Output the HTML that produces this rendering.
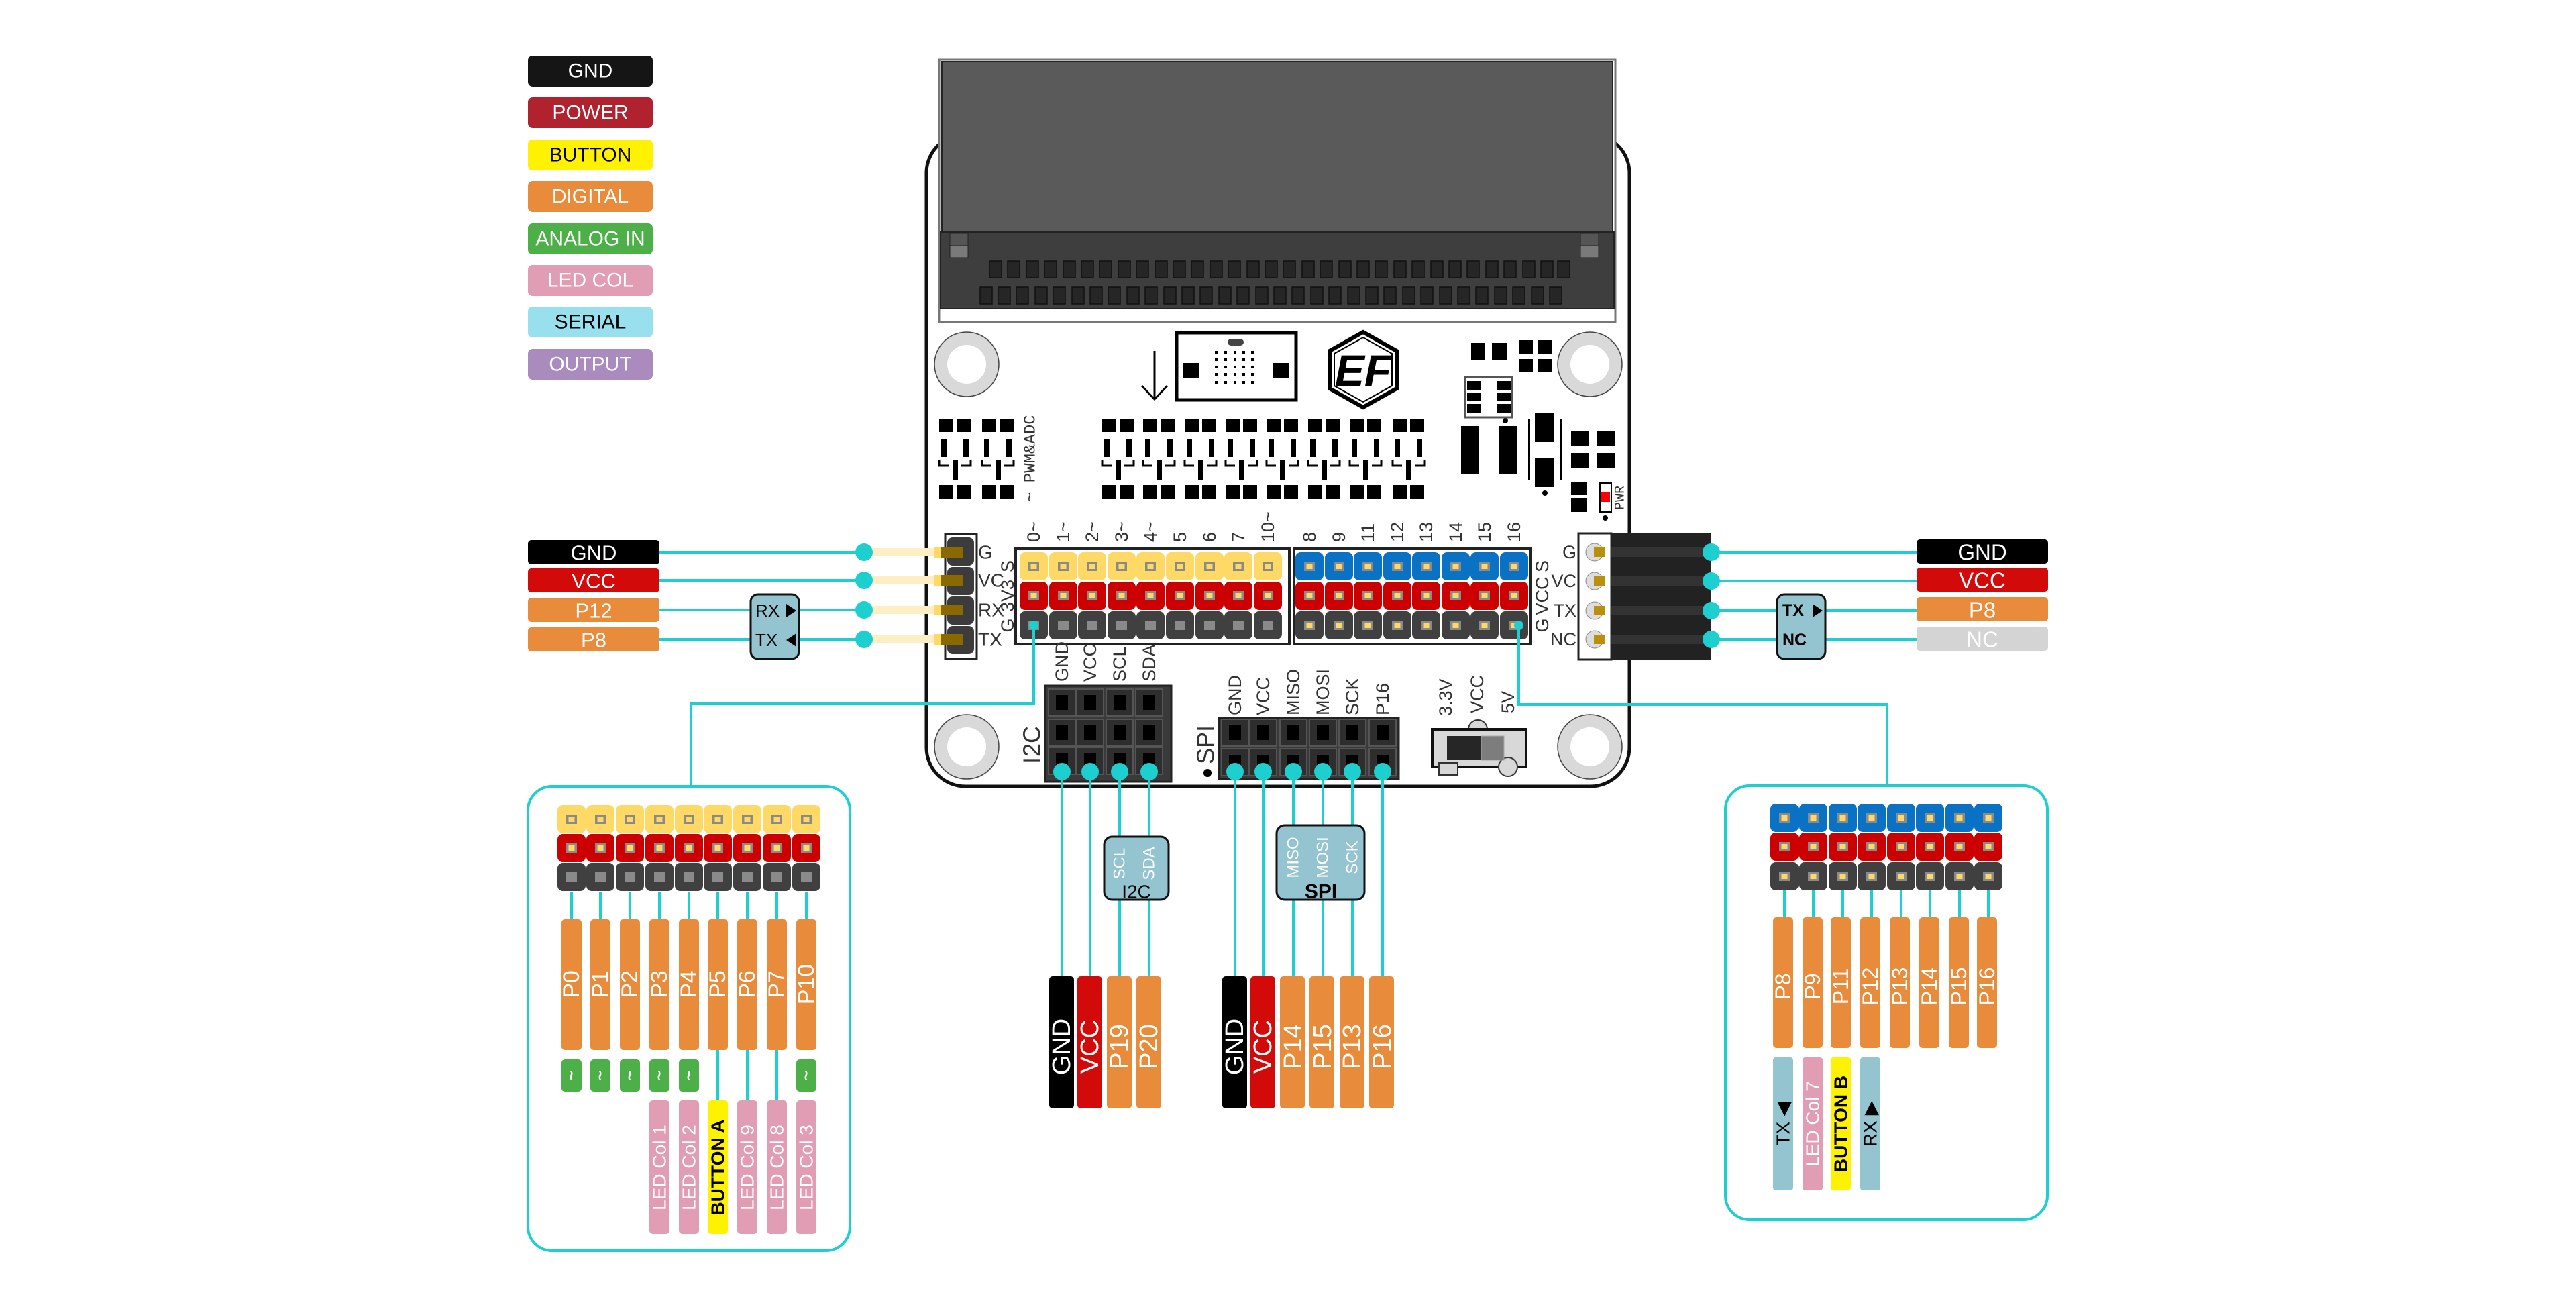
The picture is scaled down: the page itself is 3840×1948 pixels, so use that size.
<!DOCTYPE html>
<html><head><meta charset="utf-8"><style>
html,body{margin:0;padding:0;background:#fff;width:3840px;height:1948px;overflow:hidden}
svg{display:block}
text{font-family:"Liberation Sans",sans-serif}
.m{font-family:"Liberation Mono",monospace;fill:#333}
</style></head><body>
<svg width="3840" height="1948" viewBox="0 0 3840 1948" xmlns="http://www.w3.org/2000/svg">
<defs>
<g id="Y"><rect x="-21" y="-21" width="42" height="42" rx="8" fill="#ffd966"/><rect x="-8" y="-7" width="16" height="14" fill="#8a8a8a"/><rect x="-4.5" y="-4" width="9" height="8" fill="#ffd966"/></g>
<g id="R"><rect x="-21" y="-21" width="42" height="42" rx="8" fill="#cc0000"/><rect x="-8" y="-7" width="16" height="14" fill="#8a8a8a"/><rect x="-4.5" y="-4" width="9" height="8" fill="#ffd966"/></g>
<g id="B"><rect x="-21" y="-21" width="42" height="42" rx="8" fill="#0a72c4"/><rect x="-8" y="-7" width="16" height="14" fill="#8a8a8a"/><rect x="-4.5" y="-4" width="9" height="8" fill="#ffd966"/></g>
<g id="K"><rect x="-21" y="-21" width="42" height="42" rx="8" fill="#404040"/><rect x="-8" y="-7" width="16" height="14" fill="#8a8a8a"/></g>
<g id="KY"><rect x="-21" y="-21" width="42" height="42" rx="8" fill="#404040"/><rect x="-8" y="-7" width="16" height="14" fill="#8a8a8a"/><rect x="-4.5" y="-4" width="9" height="8" fill="#ffd966"/></g>
<g id="H"><rect x="-20" y="-20" width="40" height="40" fill="#2e2e2e" stroke="#555" stroke-width="2"/><rect x="-9" y="-11" width="18" height="22" fill="#000"/></g>
<g id="S1"><rect x="0" y="0" width="18" height="25" fill="#262626" stroke="#111" stroke-width="1.5"/></g>
<g id="RES"><rect x="0" y="0" width="21" height="20" fill="#000"/><rect x="26" y="0" width="21" height="20" fill="#000"/><rect x="3" y="30" width="8" height="27" fill="#000"/><rect x="36" y="30" width="8" height="27" fill="#000"/><rect x="20" y="62" width="8" height="30" fill="#000"/><path d="M0 62 v8 h14 M47 62 v8 h-14" stroke="#000" stroke-width="3" fill="none"/><rect x="0" y="99" width="21" height="20" fill="#000"/><rect x="26" y="99" width="21" height="20" fill="#000"/></g>
</defs>

<!-- Legend -->
<g font-size="30" text-anchor="middle" dominant-baseline="central">
<rect x="787" y="83" width="186" height="46" rx="7" fill="#151515"/><text x="880" y="106" fill="#fff">GND</text>
<rect x="787" y="145" width="186" height="46" rx="7" fill="#b0232e"/><text x="880" y="168" fill="#fff">POWER</text>
<rect x="787" y="208" width="186" height="46" rx="7" fill="#fff200"/><text x="880" y="231" fill="#000">BUTTON</text>
<rect x="787" y="270" width="186" height="46" rx="7" fill="#e88b3a"/><text x="880" y="293" fill="#fff">DIGITAL</text>
<rect x="787" y="333" width="186" height="46" rx="7" fill="#4caf48"/><text x="880" y="356" fill="#fff">ANALOG IN</text>
<rect x="787" y="395" width="186" height="46" rx="7" fill="#e09db3"/><text x="880" y="418" fill="#fff">LED COL</text>
<rect x="787" y="457" width="186" height="46" rx="7" fill="#99e0ee"/><text x="880" y="480" fill="#000">SERIAL</text>
<rect x="787" y="520" width="186" height="46" rx="7" fill="#a98bbd"/><text x="880" y="543" fill="#fff">OUTPUT</text>
</g>

<!-- Board body -->
<rect x="1381" y="200" width="1048" height="972" rx="58" fill="#fff" stroke="#111" stroke-width="5"/>

<!-- Edge connector -->
<rect x="1400" y="89" width="1008" height="391" fill="#fff" stroke="#777" stroke-width="3"/>
<rect x="1404" y="92" width="1000" height="254" fill="#5a5a5a" stroke="#222" stroke-width="2"/>
<rect x="1402" y="346" width="1004" height="114" fill="#3e3e3e" stroke="#222" stroke-width="2"/>
<rect x="1416" y="348" width="27" height="18" fill="#555" stroke="#222"/><rect x="1416" y="366" width="27" height="18" fill="#7a7a7a" stroke="#222"/>
<rect x="2356" y="348" width="27" height="18" fill="#555" stroke="#222"/><rect x="2356" y="366" width="27" height="18" fill="#7a7a7a" stroke="#222"/>
<g>
<use href="#S1" x="1475" y="389"/><use href="#S1" x="1502" y="389"/><use href="#S1" x="1530" y="389"/><use href="#S1" x="1557" y="389"/><use href="#S1" x="1585" y="389"/><use href="#S1" x="1612" y="389"/><use href="#S1" x="1639" y="389"/><use href="#S1" x="1667" y="389"/><use href="#S1" x="1694" y="389"/><use href="#S1" x="1722" y="389"/><use href="#S1" x="1749" y="389"/><use href="#S1" x="1776" y="389"/><use href="#S1" x="1804" y="389"/><use href="#S1" x="1831" y="389"/><use href="#S1" x="1859" y="389"/><use href="#S1" x="1886" y="389"/><use href="#S1" x="1913" y="389"/><use href="#S1" x="1941" y="389"/><use href="#S1" x="1968" y="389"/><use href="#S1" x="1996" y="389"/><use href="#S1" x="2023" y="389"/><use href="#S1" x="2050" y="389"/><use href="#S1" x="2078" y="389"/><use href="#S1" x="2105" y="389"/><use href="#S1" x="2133" y="389"/><use href="#S1" x="2160" y="389"/><use href="#S1" x="2187" y="389"/><use href="#S1" x="2215" y="389"/><use href="#S1" x="2242" y="389"/><use href="#S1" x="2270" y="389"/><use href="#S1" x="2297" y="389"/><use href="#S1" x="2322" y="389"/>
<use href="#S1" x="1461" y="428"/><use href="#S1" x="1488" y="428"/><use href="#S1" x="1515" y="428"/><use href="#S1" x="1543" y="428"/><use href="#S1" x="1570" y="428"/><use href="#S1" x="1598" y="428"/><use href="#S1" x="1625" y="428"/><use href="#S1" x="1652" y="428"/><use href="#S1" x="1680" y="428"/><use href="#S1" x="1707" y="428"/><use href="#S1" x="1735" y="428"/><use href="#S1" x="1762" y="428"/><use href="#S1" x="1789" y="428"/><use href="#S1" x="1817" y="428"/><use href="#S1" x="1844" y="428"/><use href="#S1" x="1872" y="428"/><use href="#S1" x="1899" y="428"/><use href="#S1" x="1926" y="428"/><use href="#S1" x="1954" y="428"/><use href="#S1" x="1981" y="428"/><use href="#S1" x="2009" y="428"/><use href="#S1" x="2036" y="428"/><use href="#S1" x="2063" y="428"/><use href="#S1" x="2091" y="428"/><use href="#S1" x="2118" y="428"/><use href="#S1" x="2146" y="428"/><use href="#S1" x="2173" y="428"/><use href="#S1" x="2200" y="428"/><use href="#S1" x="2228" y="428"/><use href="#S1" x="2255" y="428"/><use href="#S1" x="2283" y="428"/><use href="#S1" x="2310" y="428"/>
</g>

<!-- Mounting holes -->
<g fill="#d9d9d9" stroke="#444" stroke-width="1.5">
<circle cx="1441" cy="543" r="48"/><circle cx="2370" cy="543" r="48"/><circle cx="1441" cy="1113" r="48"/><circle cx="2370" cy="1113" r="48"/>
</g>
<g fill="#fff"><circle cx="1441" cy="543" r="29"/><circle cx="2370" cy="543" r="29"/><circle cx="1441" cy="1113" r="29"/><circle cx="2370" cy="1113" r="29"/></g>

<!-- Arrow & LED matrix -->
<path d="M1721 523 V595 M1702 575 L1721 595 L1740 575" stroke="#000" stroke-width="3" fill="none"/>
<rect x="1754" y="496" width="178" height="100" fill="#fff" stroke="#000" stroke-width="5"/>
<rect x="1763" y="541" width="24" height="23" fill="#000"/><rect x="1897" y="541" width="24" height="23" fill="#000"/>
<rect x="1830" y="505" width="24" height="10" rx="5" fill="#444"/>
<g fill="#000">
<rect x="1811" y="523" width="4" height="4"/><rect x="1825" y="523" width="4" height="4"/><rect x="1839" y="523" width="4" height="4"/><rect x="1852" y="523" width="4" height="4"/><rect x="1865" y="523" width="4" height="4"/>
<rect x="1811" y="534" width="4" height="4"/><rect x="1825" y="534" width="4" height="4"/><rect x="1839" y="534" width="4" height="4"/><rect x="1852" y="534" width="4" height="4"/><rect x="1865" y="534" width="4" height="4"/>
<rect x="1811" y="545" width="4" height="4"/><rect x="1825" y="545" width="4" height="4"/><rect x="1839" y="545" width="4" height="4"/><rect x="1852" y="545" width="4" height="4"/><rect x="1865" y="545" width="4" height="4"/>
<rect x="1811" y="556" width="4" height="4"/><rect x="1825" y="556" width="4" height="4"/><rect x="1839" y="556" width="4" height="4"/><rect x="1852" y="556" width="4" height="4"/><rect x="1865" y="556" width="4" height="4"/>
<rect x="1811" y="568" width="4" height="4"/><rect x="1825" y="568" width="4" height="4"/><rect x="1839" y="568" width="4" height="4"/><rect x="1852" y="568" width="4" height="4"/><rect x="1865" y="568" width="4" height="4"/>
</g>
<!-- EF logo -->
<polygon points="2032,495 2082,523 2082,579 2032,607 1982,579 1982,523" fill="#fff" stroke="#000" stroke-width="6"/>
<polygon points="2032,503 2075,527 2075,575 2032,599 1989,575 1989,527" fill="none" stroke="#000" stroke-width="2"/>
<text x="2032" y="575" font-size="66" font-weight="bold" text-anchor="middle" fill="#000" font-style="italic">EF</text>

<!-- Resistor arrays -->
<use href="#RES" x="1400" y="624"/><use href="#RES" x="1464" y="624"/>
<use href="#RES" x="1643" y="624"/><use href="#RES" x="1704" y="624"/><use href="#RES" x="1766" y="624"/><use href="#RES" x="1827" y="624"/><use href="#RES" x="1888" y="624"/><use href="#RES" x="1950" y="624"/><use href="#RES" x="2012" y="624"/><use href="#RES" x="2076" y="624"/>
<text class="m" font-size="24" transform="translate(1537,748) rotate(-90)" dominant-baseline="central">~ PWM&amp;ADC</text>

<!-- right components -->
<g fill="#000">
<rect x="2193" y="511" width="20" height="26"/><rect x="2224" y="511" width="22" height="26"/>
<rect x="2265" y="507" width="20" height="20"/><rect x="2293" y="507" width="20" height="20"/>
<rect x="2265" y="535" width="20" height="20"/><rect x="2293" y="535" width="20" height="20"/>
<rect x="2187" y="568" width="20" height="13"/><rect x="2187" y="585" width="20" height="13"/><rect x="2187" y="602" width="20" height="13"/>
<rect x="2232" y="568" width="20" height="13"/><rect x="2232" y="585" width="20" height="13"/><rect x="2232" y="602" width="20" height="13"/>
<circle cx="2244" cy="627" r="4"/>
<rect x="2178" y="635" width="26" height="71"/><rect x="2235" y="635" width="26" height="71"/>
<rect x="2288" y="615" width="29" height="44"/><rect x="2288" y="682" width="29" height="44"/>
<rect x="2278" y="625" width="3" height="90"/><rect x="2326" y="625" width="3" height="90"/>
<circle cx="2303" cy="735" r="4"/>
<rect x="2342" y="643" width="26" height="22"/><rect x="2381" y="643" width="26" height="22"/>
<rect x="2342" y="675" width="26" height="23"/><rect x="2381" y="675" width="26" height="23"/>
<rect x="2342" y="718" width="23" height="20"/><rect x="2342" y="742" width="23" height="21"/>
<circle cx="2393" cy="772" r="4"/>
</g>
<rect x="2184" y="562" width="70" height="60" fill="none" stroke="#555" stroke-width="3"/>
<rect x="2385" y="720" width="17" height="43" fill="#fff" stroke="#000" stroke-width="2"/>
<rect x="2387" y="734" width="13" height="14" fill="#f00"/>
<text class="m" font-size="20" transform="translate(2416,742) rotate(-90)" text-anchor="middle" dominant-baseline="central">PWR</text>

<!-- Main headers -->
<rect x="1514" y="817" width="408" height="143" fill="#fff" stroke="#222" stroke-width="4"/>
<rect x="1929" y="817" width="353" height="143" fill="#fff" stroke="#222" stroke-width="4"/>
<g>
<use href="#Y" x="1541" y="844"/><use href="#Y" x="1585" y="844"/><use href="#Y" x="1628" y="844"/><use href="#Y" x="1672" y="844"/><use href="#Y" x="1715" y="844"/><use href="#Y" x="1759" y="844"/><use href="#Y" x="1803" y="844"/><use href="#Y" x="1846" y="844"/><use href="#Y" x="1890" y="844"/>
<use href="#R" x="1541" y="888"/><use href="#R" x="1585" y="888"/><use href="#R" x="1628" y="888"/><use href="#R" x="1672" y="888"/><use href="#R" x="1715" y="888"/><use href="#R" x="1759" y="888"/><use href="#R" x="1803" y="888"/><use href="#R" x="1846" y="888"/><use href="#R" x="1890" y="888"/>
<use href="#K" x="1541" y="932"/><use href="#K" x="1585" y="932"/><use href="#K" x="1628" y="932"/><use href="#K" x="1672" y="932"/><use href="#K" x="1715" y="932"/><use href="#K" x="1759" y="932"/><use href="#K" x="1803" y="932"/><use href="#K" x="1846" y="932"/><use href="#K" x="1890" y="932"/>
<use href="#B" x="1952" y="844"/><use href="#B" x="1996" y="844"/><use href="#B" x="2039" y="844"/><use href="#B" x="2083" y="844"/><use href="#B" x="2126" y="844"/><use href="#B" x="2170" y="844"/><use href="#B" x="2213" y="844"/><use href="#B" x="2257" y="844"/>
<use href="#R" x="1952" y="888"/><use href="#R" x="1996" y="888"/><use href="#R" x="2039" y="888"/><use href="#R" x="2083" y="888"/><use href="#R" x="2126" y="888"/><use href="#R" x="2170" y="888"/><use href="#R" x="2213" y="888"/><use href="#R" x="2257" y="888"/>
<use href="#KY" x="1952" y="932"/><use href="#KY" x="1996" y="932"/><use href="#KY" x="2039" y="932"/><use href="#KY" x="2083" y="932"/><use href="#KY" x="2126" y="932"/><use href="#KY" x="2170" y="932"/><use href="#KY" x="2213" y="932"/><use href="#KY" x="2257" y="932"/>
</g>
<g class="m" font-size="27" dominant-baseline="central">
<text transform="translate(1541,808) rotate(-90)">0~</text><text transform="translate(1585,808) rotate(-90)">1~</text><text transform="translate(1628,808) rotate(-90)">2~</text><text transform="translate(1672,808) rotate(-90)">3~</text><text transform="translate(1715,808) rotate(-90)">4~</text><text transform="translate(1759,808) rotate(-90)">5</text><text transform="translate(1803,808) rotate(-90)">6</text><text transform="translate(1846,808) rotate(-90)">7</text><text transform="translate(1890,808) rotate(-90)">10~</text>
<text transform="translate(1952,808) rotate(-90)">8</text><text transform="translate(1996,808) rotate(-90)">9</text><text transform="translate(2039,808) rotate(-90)">11</text><text transform="translate(2083,808) rotate(-90)">12</text><text transform="translate(2126,808) rotate(-90)">13</text><text transform="translate(2170,808) rotate(-90)">14</text><text transform="translate(2213,808) rotate(-90)">15</text><text transform="translate(2257,808) rotate(-90)">16</text>
</g>
<g class="m" font-size="27" text-anchor="middle" dominant-baseline="central">
<text transform="translate(1502,844) rotate(-90)">S</text><text transform="translate(1502,888) rotate(-90)">3V3</text><text transform="translate(1502,932) rotate(-90)">G</text>
<text transform="translate(2299,844) rotate(-90)">S</text><text transform="translate(2299,888) rotate(-90)">VCC</text><text transform="translate(2299,932) rotate(-90)">G</text>
</g>

<!-- Left 4-pin header & connections -->
<g stroke="#1ecfcf" stroke-width="4" fill="none">
<path d="M983 823 H1288 M983 865 H1288 M983 909 H1288 M983 953 H1288"/>
<path d="M2551 823 H2857 M2551 866 H2857 M2551 910 H2857 M2551 953 H2857"/>
<path d="M1541 932 V1049 H1030 V1172"/>
<path d="M2264 932 V1050 H2813 V1171"/>
</g>
<rect x="1409" y="796" width="47" height="186" fill="#fff" stroke="#222" stroke-width="3"/>
<g fill="#3c3c3c"><rect x="1412" y="801" width="40" height="42" rx="8"/><rect x="1412" y="845" width="40" height="42" rx="8"/><rect x="1412" y="889" width="40" height="42" rx="8"/><rect x="1412" y="933" width="40" height="42" rx="8"/></g>
<g fill="#fdeec4"><rect x="1300" y="817" width="100" height="12"/><rect x="1300" y="859" width="100" height="12"/><rect x="1300" y="903" width="100" height="12"/><rect x="1300" y="947" width="100" height="12"/></g>
<g fill="#8a6a00"><rect x="1392" y="815" width="44" height="16"/><rect x="1392" y="857" width="44" height="16"/><rect x="1392" y="901" width="44" height="16"/><rect x="1392" y="945" width="44" height="16"/></g>
<g fill="#ffd966"><rect x="1392" y="815" width="10" height="16"/><rect x="1392" y="857" width="10" height="16"/><rect x="1392" y="901" width="10" height="16"/><rect x="1392" y="945" width="10" height="16"/></g>
<g fill="#1ecfcf"><circle cx="1288" cy="823" r="13"/><circle cx="1288" cy="865" r="13"/><circle cx="1288" cy="909" r="13"/><circle cx="1288" cy="953" r="13"/></g>
<g class="m" font-size="28" dominant-baseline="central"><text x="1458" y="823">G</text><text x="1458" y="865">VC</text><text x="1458" y="909">RX</text><text x="1458" y="953">TX</text></g>

<g font-size="31" text-anchor="middle" dominant-baseline="central" fill="#fff">
<rect x="787" y="805" width="196" height="36" rx="5" fill="#000"/><text x="885" y="824">GND</text>
<rect x="787" y="847" width="196" height="36" rx="5" fill="#d20a0a"/><text x="885" y="866">VCC</text>
<rect x="787" y="891" width="196" height="36" rx="5" fill="#e88b3a"/><text x="885" y="910">P12</text>
<rect x="787" y="935" width="196" height="36" rx="5" fill="#e88b3a"/><text x="885" y="954">P8</text>
</g>
<rect x="1119" y="886" width="72" height="96" rx="11" fill="#94c4d0" stroke="#111" stroke-width="3"/>
<text x="1126" y="910" font-size="26" dominant-baseline="central" fill="#000">RX</text><polygon points="1172,900 1172,920 1187,910" fill="#000"/>
<text x="1126" y="954" font-size="26" dominant-baseline="central" fill="#000">TX</text><polygon points="1187,944 1187,964 1172,954" fill="#000"/>

<!-- Right 4-pin -->
<rect x="2353" y="795" width="49" height="188" fill="#fff" stroke="#222" stroke-width="3"/>
<rect x="2402" y="795" width="149" height="188" fill="#222"/>
<g fill="#333"><rect x="2402" y="816" width="149" height="14"/><rect x="2402" y="859" width="149" height="14"/><rect x="2402" y="903" width="149" height="14"/><rect x="2402" y="946" width="149" height="14"/></g>
<g fill="#ddd" stroke="#888"><circle cx="2377" cy="823" r="13"/><circle cx="2377" cy="866" r="13"/><circle cx="2377" cy="910" r="13"/><circle cx="2377" cy="953" r="13"/></g>
<g fill="#b8900a"><rect x="2376" y="816" width="16" height="14"/><rect x="2376" y="859" width="16" height="14"/><rect x="2376" y="903" width="16" height="14"/><rect x="2376" y="946" width="16" height="14"/></g>
<g fill="#1ecfcf"><circle cx="2551" cy="823" r="13"/><circle cx="2551" cy="866" r="13"/><circle cx="2551" cy="910" r="13"/><circle cx="2551" cy="953" r="13"/></g>
<g class="m" font-size="27" dominant-baseline="central" text-anchor="end"><text x="2350" y="823">G</text><text x="2350" y="866">VC</text><text x="2350" y="910">TX</text><text x="2350" y="953">NC</text></g>
<rect x="2649" y="886" width="72" height="96" rx="11" fill="#94c4d0" stroke="#111" stroke-width="3"/>
<text x="2657" y="910" font-size="25" font-weight="bold" dominant-baseline="central" fill="#000">TX</text><polygon points="2702,900 2702,920 2717,910" fill="#000"/>
<text x="2657" y="954" font-size="25" font-weight="bold" dominant-baseline="central" fill="#000">NC</text>
<g font-size="33" text-anchor="middle" dominant-baseline="central" fill="#fff">
<rect x="2857" y="804" width="196" height="36" rx="5" fill="#000"/><text x="2955" y="823">GND</text>
<rect x="2857" y="846" width="196" height="36" rx="5" fill="#d20a0a"/><text x="2955" y="865">VCC</text>
<rect x="2857" y="890" width="196" height="36" rx="5" fill="#e88b3a"/><text x="2955" y="909">P8</text>
<rect x="2857" y="934" width="196" height="36" rx="5" fill="#d4d4d4"/><text x="2955" y="953">NC</text>
</g>

<!-- I2C / SPI blocks -->
<rect x="1558" y="1022" width="188" height="143" fill="#3a3a3a" stroke="#222" stroke-width="3"/>
<use href="#H" x="1583" y="1047"/><use href="#H" x="1625" y="1047"/><use href="#H" x="1669" y="1047"/><use href="#H" x="1713" y="1047"/>
<use href="#H" x="1583" y="1092"/><use href="#H" x="1625" y="1092"/><use href="#H" x="1669" y="1092"/><use href="#H" x="1713" y="1092"/>
<use href="#H" x="1583" y="1134"/><use href="#H" x="1625" y="1134"/><use href="#H" x="1669" y="1134"/><use href="#H" x="1713" y="1134"/>
<rect x="1817" y="1070" width="268" height="91" fill="#3a3a3a" stroke="#222" stroke-width="3"/>
<use href="#H" x="1841" y="1092"/><use href="#H" x="1883" y="1092"/><use href="#H" x="1928" y="1092"/><use href="#H" x="1972" y="1092"/><use href="#H" x="2016" y="1092"/><use href="#H" x="2061" y="1092"/>
<use href="#H" x="1841" y="1136"/><use href="#H" x="1883" y="1136"/><use href="#H" x="1928" y="1136"/><use href="#H" x="1972" y="1136"/><use href="#H" x="2016" y="1136"/><use href="#H" x="2061" y="1136"/>
<g class="m" font-size="27" dominant-baseline="central">
<text transform="translate(1583,1016) rotate(-90)">GND</text><text transform="translate(1625,1016) rotate(-90)">VCC</text><text transform="translate(1669,1016) rotate(-90)">SCL</text><text transform="translate(1713,1016) rotate(-90)">SDA</text>
<text transform="translate(1841,1066) rotate(-90)">GND</text><text transform="translate(1883,1066) rotate(-90)">VCC</text><text transform="translate(1928,1066) rotate(-90)">MISO</text><text transform="translate(1972,1066) rotate(-90)">MOSI</text><text transform="translate(2016,1066) rotate(-90)">SCK</text><text transform="translate(2061,1066) rotate(-90)">P16</text>
<text transform="translate(2155,1067) rotate(-90)">3.3V</text><text transform="translate(2202,1063) rotate(-90)">VCC</text><text transform="translate(2248,1063) rotate(-90)">5V</text>
</g>
<g class="m" font-size="36" text-anchor="middle" dominant-baseline="central">
<text transform="translate(1538,1110) rotate(-90)">I2C</text><text transform="translate(1797,1110) rotate(-90)">SPI</text>
</g>
<circle cx="1800" cy="1152" r="6" fill="#000"/>
<!-- switch -->
<circle cx="2203" cy="1087" r="14" fill="#d8d8d8" stroke="#333" stroke-width="2"/>
<rect x="2135" y="1087" width="140" height="56" fill="#d8d8d8" stroke="#111" stroke-width="4"/>
<rect x="2145" y="1137" width="28" height="18" fill="#d8d8d8" stroke="#333" stroke-width="2"/>
<circle cx="2248" cy="1143" r="14" fill="#d8d8d8" stroke="#333" stroke-width="2"/>
<rect x="2157" y="1097" width="51" height="36" fill="#262626"/><rect x="2208" y="1097" width="34" height="36" fill="#7d7d7d" stroke="#aaa"/>

<!-- middle connections -->
<g stroke="#1ecfcf" stroke-width="4" fill="none">
<path d="M1583 1150 V1455 M1625 1150 V1455 M1669 1150 V1455 M1713 1150 V1455"/>
<path d="M1841 1150 V1455 M1883 1150 V1455 M1928 1150 V1455 M1972 1150 V1455 M2016 1150 V1455 M2061 1150 V1455"/>
</g>
<g fill="#1ecfcf">
<circle cx="1583" cy="1150" r="13"/><circle cx="1625" cy="1150" r="13"/><circle cx="1669" cy="1150" r="13"/><circle cx="1713" cy="1150" r="13"/>
<circle cx="1841" cy="1150" r="13"/><circle cx="1883" cy="1150" r="13"/><circle cx="1928" cy="1150" r="13"/><circle cx="1972" cy="1150" r="13"/><circle cx="2016" cy="1150" r="13"/><circle cx="2061" cy="1150" r="13"/>
</g>
<rect x="1646" y="1247" width="96" height="94" rx="12" fill="#94c4d0" stroke="#111" stroke-width="3"/>
<g font-size="24" fill="#fff" text-anchor="middle" dominant-baseline="central"><text transform="translate(1669,1287) rotate(-90)">SCL</text><text transform="translate(1713,1287) rotate(-90)">SDA</text></g>
<text x="1694" y="1329" font-size="28" text-anchor="middle" dominant-baseline="central" fill="#000">I2C</text>
<rect x="1903" y="1230" width="131" height="111" rx="12" fill="#94c4d0" stroke="#111" stroke-width="3"/>
<g font-size="24" fill="#fff" text-anchor="middle" dominant-baseline="central"><text transform="translate(1928,1278) rotate(-90)">MISO</text><text transform="translate(1972,1278) rotate(-90)">MOSI</text><text transform="translate(2016,1278) rotate(-90)">SCK</text></g>
<text x="1969" y="1329" font-size="30" font-weight="bold" text-anchor="middle" dominant-baseline="central" fill="#000">SPI</text>
<g>
<rect x="1564" y="1455" width="37" height="197" rx="5" fill="#000"/><rect x="1606" y="1455" width="37" height="197" rx="5" fill="#d20a0a"/><rect x="1650" y="1455" width="37" height="197" rx="5" fill="#e88b3a"/><rect x="1694" y="1455" width="37" height="197" rx="5" fill="#e88b3a"/>
<rect x="1822" y="1455" width="37" height="197" rx="5" fill="#000"/><rect x="1864" y="1455" width="37" height="197" rx="5" fill="#d20a0a"/><rect x="1908" y="1455" width="37" height="197" rx="5" fill="#e88b3a"/><rect x="1952" y="1455" width="37" height="197" rx="5" fill="#e88b3a"/><rect x="1997" y="1455" width="37" height="197" rx="5" fill="#e88b3a"/><rect x="2041" y="1455" width="37" height="197" rx="5" fill="#e88b3a"/>
</g>
<g font-size="38" fill="#fff" text-anchor="middle" dominant-baseline="central">
<text transform="translate(1583,1560) rotate(-90)">GND</text><text transform="translate(1625,1560) rotate(-90)">VCC</text><text transform="translate(1669,1560) rotate(-90)">P19</text><text transform="translate(1713,1560) rotate(-90)">P20</text>
<text transform="translate(1841,1560) rotate(-90)">GND</text><text transform="translate(1883,1560) rotate(-90)">VCC</text><text transform="translate(1928,1560) rotate(-90)">P14</text><text transform="translate(1972,1560) rotate(-90)">P15</text><text transform="translate(2016,1560) rotate(-90)">P13</text><text transform="translate(2061,1560) rotate(-90)">P16</text>
</g>
<!-- board header dots over top -->
<circle cx="1541" cy="932" r="7" fill="#1ecfcf"/><circle cx="2264" cy="932" r="7" fill="#1ecfcf"/>

<!-- Left expansion box -->
<rect x="787" y="1172" width="480" height="692" rx="36" fill="#fff" stroke="#1ecfcf" stroke-width="4"/>
<g stroke="#1ecfcf" stroke-width="4">
<path d="M852 1329 V1370 M895 1329 V1370 M939 1329 V1370 M983 1329 V1370 M1027 1329 V1370 M1070 1329 V1370 M1114 1329 V1370 M1158 1329 V1370 M1202 1329 V1370"/>
<path d="M1070 1565 V1640 M1114 1565 V1640 M1158 1565 V1640"/>
</g>
<g>
<use href="#Y" x="852" y="1221"/><use href="#Y" x="895" y="1221"/><use href="#Y" x="939" y="1221"/><use href="#Y" x="983" y="1221"/><use href="#Y" x="1027" y="1221"/><use href="#Y" x="1070" y="1221"/><use href="#Y" x="1114" y="1221"/><use href="#Y" x="1158" y="1221"/><use href="#Y" x="1202" y="1221"/>
<use href="#R" x="852" y="1264"/><use href="#R" x="895" y="1264"/><use href="#R" x="939" y="1264"/><use href="#R" x="983" y="1264"/><use href="#R" x="1027" y="1264"/><use href="#R" x="1070" y="1264"/><use href="#R" x="1114" y="1264"/><use href="#R" x="1158" y="1264"/><use href="#R" x="1202" y="1264"/>
<use href="#K" x="852" y="1307"/><use href="#K" x="895" y="1307"/><use href="#K" x="939" y="1307"/><use href="#K" x="983" y="1307"/><use href="#K" x="1027" y="1307"/><use href="#K" x="1070" y="1307"/><use href="#K" x="1114" y="1307"/><use href="#K" x="1158" y="1307"/><use href="#K" x="1202" y="1307"/>
</g>
<g fill="#e88b3a">
<rect x="837" y="1370" width="30" height="195" rx="5"/><rect x="880" y="1370" width="30" height="195" rx="5"/><rect x="924" y="1370" width="30" height="195" rx="5"/><rect x="968" y="1370" width="30" height="195" rx="5"/><rect x="1012" y="1370" width="30" height="195" rx="5"/><rect x="1055" y="1370" width="30" height="195" rx="5"/><rect x="1099" y="1370" width="30" height="195" rx="5"/><rect x="1143" y="1370" width="30" height="195" rx="5"/><rect x="1187" y="1370" width="30" height="195" rx="5"/>
</g>
<g font-size="34" fill="#fff" text-anchor="middle" dominant-baseline="central">
<text transform="translate(852,1467) rotate(-90)">P0</text><text transform="translate(895,1467) rotate(-90)">P1</text><text transform="translate(939,1467) rotate(-90)">P2</text><text transform="translate(983,1467) rotate(-90)">P3</text><text transform="translate(1027,1467) rotate(-90)">P4</text><text transform="translate(1070,1467) rotate(-90)">P5</text><text transform="translate(1114,1467) rotate(-90)">P6</text><text transform="translate(1158,1467) rotate(-90)">P7</text><text transform="translate(1202,1467) rotate(-90)">P10</text>
</g>
<g fill="#4caf48">
<rect x="837" y="1579" width="30" height="48" rx="5"/><rect x="880" y="1579" width="30" height="48" rx="5"/><rect x="924" y="1579" width="30" height="48" rx="5"/><rect x="968" y="1579" width="30" height="48" rx="5"/><rect x="1012" y="1579" width="30" height="48" rx="5"/><rect x="1187" y="1579" width="30" height="48" rx="5"/>
</g>
<g font-size="24" fill="#fff" text-anchor="middle" dominant-baseline="central" font-weight="bold">
<text transform="translate(852,1603) rotate(-90)">~</text><text transform="translate(895,1603) rotate(-90)">~</text><text transform="translate(939,1603) rotate(-90)">~</text><text transform="translate(983,1603) rotate(-90)">~</text><text transform="translate(1027,1603) rotate(-90)">~</text><text transform="translate(1202,1603) rotate(-90)">~</text>
</g>
<rect x="968" y="1640" width="30" height="199" rx="5" fill="#e09db3"/><rect x="1012" y="1640" width="30" height="199" rx="5" fill="#e09db3"/><rect x="1055" y="1640" width="30" height="199" rx="5" fill="#fff200"/><rect x="1099" y="1640" width="30" height="199" rx="5" fill="#e09db3"/><rect x="1143" y="1640" width="30" height="199" rx="5" fill="#e09db3"/><rect x="1187" y="1640" width="30" height="199" rx="5" fill="#e09db3"/>
<g font-size="28" fill="#fff" text-anchor="middle" dominant-baseline="central">
<text transform="translate(983,1740) rotate(-90)">LED Col 1</text><text transform="translate(1027,1740) rotate(-90)">LED Col 2</text><text transform="translate(1070,1740) rotate(-90)" fill="#000" font-weight="bold">BUTTON A</text><text transform="translate(1114,1740) rotate(-90)">LED Col 9</text><text transform="translate(1158,1740) rotate(-90)">LED Col 8</text><text transform="translate(1202,1740) rotate(-90)">LED Col 3</text>
</g>

<!-- Right expansion box -->
<rect x="2572" y="1171" width="480" height="647" rx="36" fill="#fff" stroke="#1ecfcf" stroke-width="4"/>
<g stroke="#1ecfcf" stroke-width="4">
<path d="M2660 1327 V1367 M2703 1327 V1367 M2747 1327 V1367 M2790 1327 V1367 M2834 1327 V1367 M2877 1327 V1367 M2921 1327 V1367 M2964 1327 V1367"/>
</g>
<g>
<use href="#B" x="2660" y="1219"/><use href="#B" x="2703" y="1219"/><use href="#B" x="2747" y="1219"/><use href="#B" x="2790" y="1219"/><use href="#B" x="2834" y="1219"/><use href="#B" x="2877" y="1219"/><use href="#B" x="2921" y="1219"/><use href="#B" x="2964" y="1219"/>
<use href="#R" x="2660" y="1262"/><use href="#R" x="2703" y="1262"/><use href="#R" x="2747" y="1262"/><use href="#R" x="2790" y="1262"/><use href="#R" x="2834" y="1262"/><use href="#R" x="2877" y="1262"/><use href="#R" x="2921" y="1262"/><use href="#R" x="2964" y="1262"/>
<use href="#KY" x="2660" y="1306"/><use href="#KY" x="2703" y="1306"/><use href="#KY" x="2747" y="1306"/><use href="#KY" x="2790" y="1306"/><use href="#KY" x="2834" y="1306"/><use href="#KY" x="2877" y="1306"/><use href="#KY" x="2921" y="1306"/><use href="#KY" x="2964" y="1306"/>
</g>
<g fill="#e88b3a">
<rect x="2643" y="1367" width="30" height="195" rx="5"/><rect x="2687" y="1367" width="30" height="195" rx="5"/><rect x="2729" y="1367" width="30" height="195" rx="5"/><rect x="2773" y="1367" width="30" height="195" rx="5"/><rect x="2817" y="1367" width="30" height="195" rx="5"/><rect x="2861" y="1367" width="30" height="195" rx="5"/><rect x="2905" y="1367" width="30" height="195" rx="5"/><rect x="2947" y="1367" width="30" height="195" rx="5"/>
</g>
<g font-size="32" fill="#fff" text-anchor="middle" dominant-baseline="central">
<text transform="translate(2658,1470) rotate(-90)">P8</text><text transform="translate(2702,1470) rotate(-90)">P9</text><text transform="translate(2744,1470) rotate(-90)">P11</text><text transform="translate(2788,1470) rotate(-90)">P12</text><text transform="translate(2832,1470) rotate(-90)">P13</text><text transform="translate(2876,1470) rotate(-90)">P14</text><text transform="translate(2920,1470) rotate(-90)">P15</text><text transform="translate(2962,1470) rotate(-90)">P16</text>
</g>
<rect x="2643" y="1576" width="30" height="198" rx="4" fill="#94c4d0"/><rect x="2687" y="1576" width="30" height="198" rx="4" fill="#e09db3"/><rect x="2729" y="1576" width="30" height="198" rx="4" fill="#fff200"/><rect x="2773" y="1576" width="30" height="198" rx="4" fill="#94c4d0"/>
<g font-size="28" text-anchor="middle" dominant-baseline="central">
<text transform="translate(2658,1675) rotate(-90)" fill="#000">TX ◀</text><text transform="translate(2702,1675) rotate(-90)" fill="#fff">LED Col 7</text><text transform="translate(2744,1675) rotate(-90)" fill="#000" font-weight="bold">BUTTON B</text><text transform="translate(2788,1675) rotate(-90)" fill="#000">RX ▶</text>
</g>
</svg>
</body></html>
